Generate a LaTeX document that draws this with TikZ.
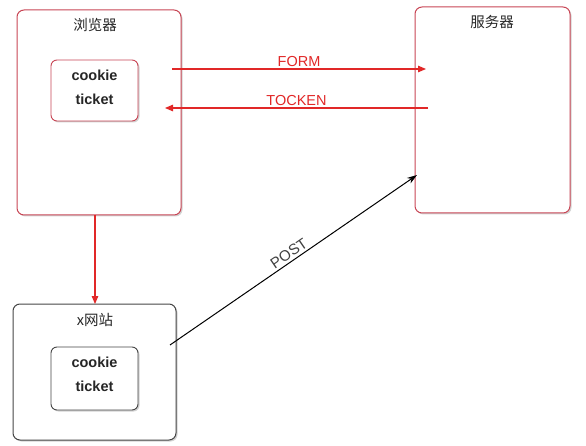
\documentclass[tikz,border=0pt]{standalone}
\usepackage{fontspec}
\setmainfont{Liberation Sans}
\newfontfamily\cjk{Noto Sans CJK SC}
\usetikzlibrary{shadows,arrows.meta}
\definecolor{boxred}{RGB}{200,70,85}
\definecolor{linered}{RGB}{225,40,40}
\definecolor{boxgray}{RGB}{70,70,70}
\tikzset{
  bigbox/.style={draw=boxred, line width=1pt, rounded corners=7pt, fill=white,
    drop shadow={shadow xshift=1.5pt, shadow yshift=-1.5pt, opacity=0.35}},
  graybox/.style={bigbox, draw=boxgray},
  innerbox/.style={draw=boxred, line width=0.9pt, rounded corners=6pt, fill=white,
    drop shadow={shadow xshift=1.5pt, shadow yshift=-1.5pt, opacity=0.35}},
  innergray/.style={innerbox, draw=boxgray},
  title/.style={font=\cjk\fontsize{14.5}{16}\selectfont, text=black!85},
  ctext/.style={font=\bfseries\fontsize{14.5}{16}\selectfont, text=black!85},
  redarrow/.style={draw=linered, line width=1.1pt, -{Triangle[length=8pt,width=6.5pt]}},
  redlabel/.style={font=\fontsize{14.5}{16}\selectfont, text=linered},
  blackarrow/.style={draw=black, line width=1pt, -{Stealth[length=10pt,width=6.5pt]}},
}
\begin{document}
\begin{tikzpicture}[x=1pt,y=-1pt]
\useasboundingbox (0,0) rectangle (586,446);
% browser
\path[bigbox] (17,10) rectangle (181,215);
\node[title] (bt) at (95,25) {浏览器};
\path[innerbox] (51,60) rectangle (138,121);
\node[ctext] (bc) at (94.5,75) {cookie};
\node[ctext] (bk) at (94.5,99) {ticket};
\coordinate (bfrom) at (172,69);
\coordinate (bto) at (165,108);
\coordinate (bdown) at (95,215);
% server
\path[bigbox] (415,7) rectangle (570,213);
\node[title] (st) at (492,22) {服务器};
\coordinate (sto) at (426,69);
\coordinate (sfrom) at (428,108);
\coordinate (spost) at (417,175);
% x site
\path[graybox] (13,304) rectangle (176,440);
\node[title] (xt) at (95,320) {x网站};
\path[innergray] (51,347) rectangle (138,410);
\node[ctext] (xc) at (94.5,362) {cookie};
\node[ctext] (xk) at (94.5,386) {ticket};
\coordinate (xtop) at (95,304);
\coordinate (xfrom) at (170,345);
% arrows
\draw[redarrow] (bfrom) -- node[redlabel, above=-2pt] {FORM} (sto);
\draw[redarrow] (sfrom) -- node[redlabel, above=-2pt] {TOCKEN} (bto);
\draw[redarrow] (bdown) -- (xtop);
\draw[blackarrow] (xfrom) -- node[pos=0.5, above=-1pt, sloped, font=\fontsize{15}{16}\selectfont, text=black!75] {POST} (spost);
\end{tikzpicture}
\end{document}
